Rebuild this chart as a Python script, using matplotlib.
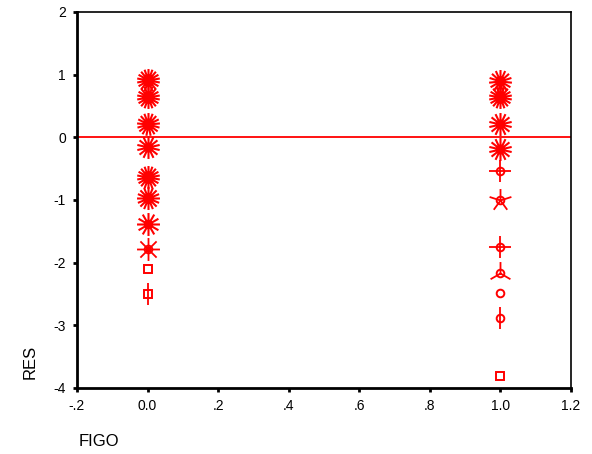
import numpy as np
import matplotlib.pyplot as plt
from matplotlib.path import Path

plt.rcParams['font.family'] = ['Liberation Sans', 'DejaVu Sans']
plt.rcParams['axes.unicode_minus'] = False

# residuals by FIGO group, with number of cases at each point (sunflower petals)
res0 = [0.91, 0.64, 0.22, -0.15, -0.64, -0.97, -1.38, -1.78, -2.10, -2.50]
cnt0 = [18, 18, 17, 14, 18, 16, 12, 8, 1, 2]
sym0 = ['o', 'o', 'o', 'o', 'o', 'o', 'o', 'o', 's', 's']
res1 = [0.90, 0.64, 0.22, -0.18, -0.53, -1.00, -1.75, -2.17, -2.48, -2.89, -3.81]
cnt1 = [15, 18, 14, 14, 4, 5, 4, 3, 1, 2, 1]
sym1 = ['o', 'o', 'o', 'o', 'o', 'o', 'o', 'o', 'o', 'o', 's']

xticks = [-0.2, 0.0, 0.2, 0.4, 0.6, 0.8, 1.0, 1.2]
xlabels = ['-.2', '0.0', '.2', '.4', '.6', '.8', '1.0', '1.2']
yticks = [-4, -3, -2, -1, 0, 1, 2]


def petals(n):
    verts = []
    codes = []
    for k in range(n):
        a = np.pi / 2 + 2 * np.pi * k / n
        verts += [(0, 0), (np.cos(a), np.sin(a))]
        codes += [Path.MOVETO, Path.LINETO]
    return Path(verts, codes)


fig = plt.figure(figsize=(5.92, 4.54), dpi=100)
ax = fig.add_axes([0.130, 0.1454, 0.8345, 0.8282])

for xv, ys, cs, ss in [(0.0, res0, cnt0, sym0), (1.0, res1, cnt1, sym1)]:
    for y, c, s in zip(ys, cs, ss):
        ax.plot([xv], [y], marker=s, ms=5.5, mfc='white', mec='red', mew=1.4, zorder=3)
        if c > 1:
            lw = 1.5 if c > 10 else 1.3
            ax.plot([xv], [y], marker=petals(c), ms=16.5, mec='red', mew=lw, zorder=4)

ax.axhline(0, color='red', lw=1.3, zorder=2)

ax.set_xlim(-0.2, 1.2)
ax.set_ylim(-4, 2)
ax.set_xticks(xticks)
ax.set_xticklabels(xlabels)
ax.set_yticks(yticks)
ax.tick_params(direction='out', length=3, width=2, labelsize=10, pad=5)
for s in ['left', 'bottom']:
    ax.spines[s].set_linewidth(2)
for s in ['top', 'right']:
    ax.spines[s].set_linewidth(1.2)

fig.text(30 / 592, 1 - 362 / 454, 'RES', rotation=90, ha='center', va='center', fontsize=12)
fig.text(79 / 592, 1 - 441 / 454, 'FIGO', ha='left', va='center', fontsize=12)

fig.savefig('out.png', dpi=100)
